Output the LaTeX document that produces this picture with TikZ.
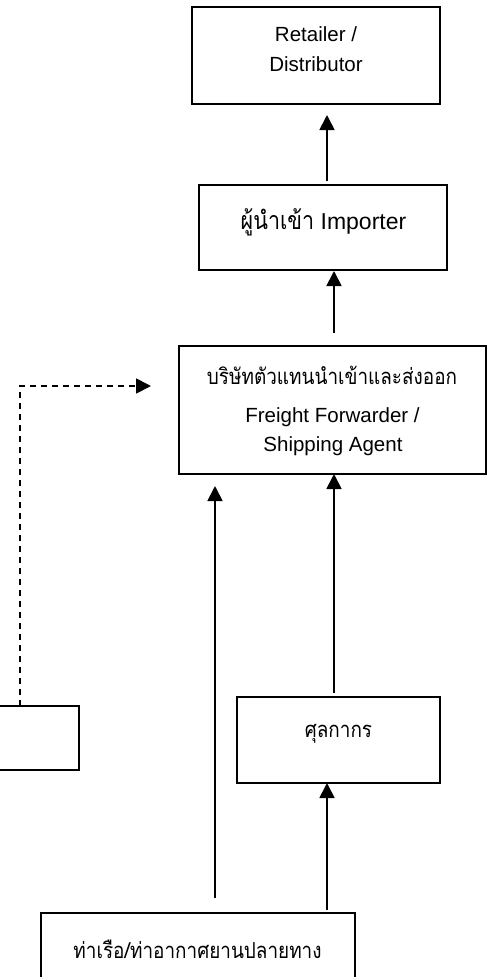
\documentclass[tikz,border=0pt]{standalone}
\usepackage{fontspec}
\setmainfont{Liberation Sans}
\newfontfamily\thaifont[Script=Thai,FakeStretch=0.86]{Loma}
\usetikzlibrary{arrows.meta}
\begin{document}
\begin{tikzpicture}[x=1pt,y=-1pt,
  box/.style={draw, line width=1.8pt, inner sep=0pt, outer sep=0pt},
  txt/.style={inner sep=0pt, anchor=base, font=\fontsize{20.5}{30}\selectfont},
  thtxt/.style={inner sep=0pt, anchor=base, font=\thaifont\fontsize{22}{28}\selectfont},
  arr/.style={line width=1.8pt, -{Triangle[length=15pt,width=15pt]}},
  darr/.style={line width=1.8pt, dash pattern=on 6pt off 5pt, -{Triangle[length=15pt,width=15pt]}}]
\useasboundingbox (0,0) rectangle (497,977);
\clip (0,0) rectangle (497,977);

% boxes
\node[box, minimum width=248pt, minimum height=97pt]  (ret)  at (316,55.5)  {};
\node[box, minimum width=248pt, minimum height=85pt]  (imp)  at (323,227.5) {};
\node[box, minimum width=307pt, minimum height=128pt] (fwd)  at (332.5,410) {};
\node[box, minimum width=203pt, minimum height=86pt]  (cus)  at (338.5,740) {};
\node[box, minimum width=314pt, minimum height=77pt]  (port) at (198,951.5) {};
\node[box, minimum width=139pt, minimum height=64pt]  (lft)  at (9.5,738)   {};

% labels
\node[txt] (ret1) at (316,41) {Retailer /};
\node[txt] (ret2) at (316,71) {Distributor};
\node[txt, font=\fontsize{23}{30}\selectfont] (impt) at (323.5,229)
  {{\thaifont\fontsize{25}{30}\selectfont ผู้นำเข้า} Importer};
\node[thtxt] (fwd1) at (332,384) {บริษัทตัวแทนนำเข้าและส่งออก};
\node[txt] (fwd2) at (332.5,422) {Freight Forwarder /};
\node[txt] (fwd3) at (333,451) {Shipping Agent};
\node[thtxt] (cust) at (338.5,737) {ศุลกากร};
\node[thtxt] (portt) at (197.5,958) {ท่าเรือ/ท่าอากาศยานปลายทาง};

% connectors
\draw[arr] ([xshift=4pt,yshift=4pt]imp.north) -- ([xshift=11pt,yshift=-11pt]ret.south);
\draw[arr] ([xshift=1.5pt,yshift=13pt]fwd.north) -- ([xshift=11pt,yshift=-1pt]imp.south);
\draw[arr] ([xshift=17pt,yshift=15pt]port.north) -- ([xshift=-117.5pt,yshift=-12pt]fwd.south);
\draw[arr] ([xshift=-4.5pt,yshift=4pt]cus.north) -- ([xshift=1.5pt]fwd.south);
\draw[arr] ([xshift=129pt,yshift=3pt]port.north) -- ([xshift=-11.5pt]cus.south);
\coordinate (dtip) at (151,386);
\draw[darr] ([xshift=10.5pt]lft.north) |- (dtip);
\end{tikzpicture}
\end{document}
